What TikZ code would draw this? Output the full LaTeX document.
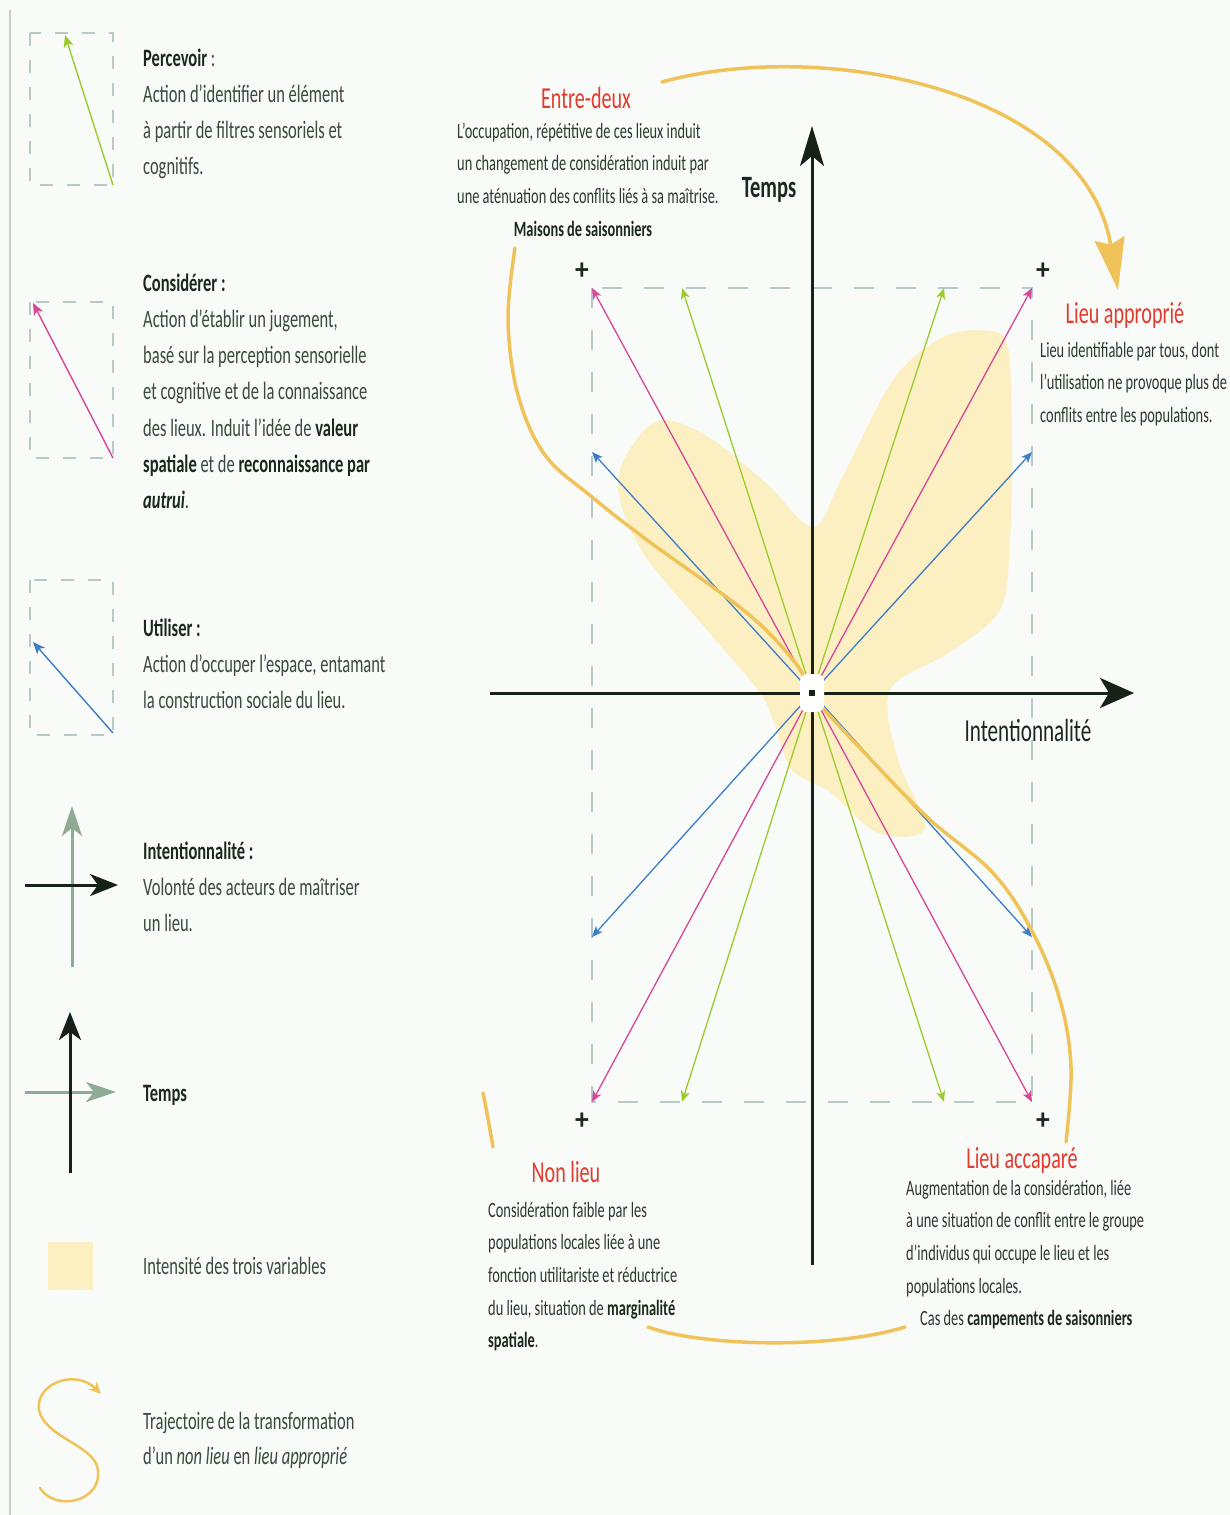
\documentclass[tikz,border=0pt]{standalone}
\usepackage{fontspec}
\usepackage{graphicx}
\setmainfont{Carlito}[FakeStretch=0.66]
\usetikzlibrary{arrows.meta}
\definecolor{bg}{HTML}{F8FBF8}
\definecolor{txt}{HTML}{3B4A3B}
\definecolor{ctxt}{HTML}{2C3A2C}
\definecolor{dark}{HTML}{1C281C}
\definecolor{redt}{HTML}{E23B2E}
\definecolor{grn}{HTML}{9BCB2E}
\definecolor{mgt}{HTML}{D8469A}
\definecolor{blu}{HTML}{3C7DCA}
\definecolor{dsh}{HTML}{B7C9C9}
\definecolor{traj}{HTML}{F0C35A}
\definecolor{blob}{HTML}{FCEFC2}
\definecolor{sage}{HTML}{8FAA95}
\definecolor{axc}{HTML}{162216}
\newcommand\bd[1]{{\bfseries\color{dark}#1}}
\begin{document}
\begin{tikzpicture}[x=1pt,y=-1pt,
  legtxt/.style={anchor=north west,align=left,inner sep=0,text=txt,font=\fontsize{25}{36.2}\selectfont},
  chtxt/.style={anchor=north west,align=left,inner sep=0,text=ctxt,font=\fontsize{21.8}{32.6}\selectfont},
  ttl/.style={anchor=base,inner sep=0,text=redt,font=\fontsize{30.5}{36}\selectfont},
  axlbl/.style={anchor=base,inner sep=0,text=dark,font=\fontsize{32}{36}\selectfont},
  plus/.style={inner sep=0,text=dark,font=\fontsize{26}{26}\selectfont\bfseries},
  chrect/.style={draw=dsh,line width=1.8pt,dash pattern=on 20pt off 22pt},
  legrect/.style={draw=dsh,line width=1.5pt,dash pattern=on 13pt off 14pt},
  carr/.style={line width=1.3pt,-{Stealth[length=11pt,width=9pt,inset=3pt]}},
  larr/.style={line width=1.4pt,-{Stealth[length=12pt,width=10pt,inset=3pt]}},
  bigax/.style={draw=axc,line width=3pt,-{Stealth[length=40pt,width=24pt,inset=10pt]}},
  bigaxh/.style={draw=axc,line width=3pt,-{Stealth[length=34pt,width=30pt,inset=9pt]}},
  legblack/.style={draw=axc,line width=3pt,-{Stealth[length=28pt,width=22pt,inset=8pt]}},
  leggray/.style={draw=sage,line width=3pt,-{Stealth[length=30pt,width=20pt,inset=8pt]}},
  trajl/.style={draw=traj,line width=3.5pt,line cap=round}
]
\fill[bg] (0,0) rectangle (1230,1515);
\useasboundingbox (0,0) rectangle (1230,1515);
\draw[draw=black!20,line width=2pt] (10,10) -- (10,1515);

% ---------- Legend ----------
\draw[legrect] (30,33) rectangle (113,185);
\coordinate (p1a) at (113,185); \coordinate (p1b) at (65,35);
\draw[larr,draw=grn] (p1a) -- (p1b);
\node[legtxt] (tPerc) at (143,40.8) {\strut\bd{Percevoir} :\\Action d’identifier un élément\\à partir de filtres sensoriels et\\cognitifs.};

\draw[legrect] (30,302) rectangle (113,458);
\coordinate (p2a) at (113,458); \coordinate (p2b) at (33,303);
\draw[larr,draw=mgt] (p2a) -- (p2b);
\node[legtxt] (tCons) at (143,265.8) {\strut\bd{Considérer :}\\Action d’établir un jugement,\\basé sur la perception sensorielle\\et cognitive et de la connaissance\\des lieux. Induit l’idée de \bd{valeur}\\\bd{spatiale} et de \bd{reconnaissance par}\\\bd{\itshape autrui}.};

\draw[legrect] (30,580) rectangle (113,735);
\coordinate (p3a) at (113,733); \coordinate (p3b) at (33,642);
\draw[larr,draw=blu] (p3a) -- (p3b);
\node[legtxt] (tUtil) at (143,610.8) {\strut\bd{Utiliser :}\\Action d’occuper l’espace, entamant\\la construction sociale du lieu.};

\coordinate (i1a) at (72,967); \coordinate (i1b) at (72,806);
\coordinate (i2a) at (25,885); \coordinate (i2b) at (118,885);
\draw[leggray] (i1a) -- (i1b);
\draw[legblack] (i2a) -- (i2b);
\node[legtxt] (tInt) at (143,833.8) {\strut\bd{Intentionnalité :}\\Volonté des acteurs de maîtriser\\un lieu.};

\coordinate (t2a) at (25,1092); \coordinate (t2b) at (116,1092);
\coordinate (t1a) at (70,1173); \coordinate (t1b) at (70,1012);
\draw[leggray] (t2a) -- (t2b);
\draw[legblack] (t1a) -- (t1b);
\node[legtxt] (tTemps) at (143,1075.8) {\strut\bd{Temps}};

\fill[blob] (48,1242) rectangle (93,1290);
\node[legtxt] (tIntens) at (143,1248.8) {\strut Intensité des trois variables};

\draw[trajl,line width=2.5pt,-{Stealth[length=12pt,width=11pt]}] (40,1488) .. controls (55,1512) and (102,1502) .. (98,1470) .. controls (95,1445) and (45,1438) .. (39,1410) .. controls (35,1384) and (75,1368) .. (101,1394);
\node[legtxt,font=\fontsize{25}{35}\selectfont] (tTraj) at (143,1404.5) {\strut Trajectoire de la transformation\\d’un \textit{non lieu} en \textit{lieu approprié}};

% ---------- Chart ----------
\fill[blob] plot[smooth cycle,tension=0.55] coordinates {
 (813,527) (842,478) (893,380) (943,337) (990,331) (1008,348) (1012,440)
 (1010,540) (1000,610) (950,652) (890,690) (898,760) (925,828) (878,833)
 (830,792) (792,770) (774,722) (758,690) (700,622) (640,548) (618,478)
 (655,422) (705,435) (765,482)};

\draw[chrect] (592,288) rectangle (1032,1102);

\node[inner sep=0] (O) at (812,693) {};
\coordinate (tlm) at (592,288); \coordinate (tlg) at (682,288); \coordinate (tlb) at (592,452);
\coordinate (trg) at (944,288); \coordinate (trm) at (1032,288); \coordinate (trb) at (1032,452);
\coordinate (blb) at (592,937); \coordinate (blm) at (592,1102); \coordinate (blg) at (682,1102);
\coordinate (brg) at (944,1102); \coordinate (brm) at (1032,1102); \coordinate (brb) at (1032,937);
\foreach \e/\c in {tlm/mgt,tlg/grn,tlb/blu,trg/grn,trm/mgt,trb/blu,blb/blu,blm/mgt,blg/grn,brg/grn,brm/mgt,brb/blu}
  \draw[carr,draw=\c] (O) -- (\e);

% axes
\coordinate (hl) at (490,693); \coordinate (hr) at (1134,693);
\coordinate (vb) at (812,1265); \coordinate (vt) at (812,126);
\draw[bigaxh] (hl) -- (hr);
\draw[bigax] (vb) -- (vt);

% trajectory
\draw[trajl] (483,1093) .. controls (487,1112) and (490,1130) .. (493,1147);
\draw[trajl] (648,1327) .. controls (700,1346) and (830,1350) .. (905,1327);
\draw[trajl] plot[smooth,tension=0.6] coordinates {
 (1066,1142) (1071,1067) (1060,1000) (1033,933) (993,873) (927,817) (860,748)
 (812,695) (797,665) (747,613) (647,540) (592,497) (545,455) (518,395) (508,320) (515,248)};
\draw[trajl,-{Stealth[length=52pt,width=30pt,inset=6pt]}] (662,82) .. controls (820,38) and (1085,88) .. (1118,290);

% centre
\node[fill=white,minimum width=24pt,minimum height=38pt,rounded corners=7pt,inner sep=0] (Cw) at (812,693) {};
\node[fill=axc,minimum size=6pt,inner sep=0] (Cb) at (812,693) {};

% plus signs
\node[plus] (pl1) at (582,271) {\scalebox{1.6}[1.15]{+}};
\node[plus] (pl2) at (1043,271) {\scalebox{1.6}[1.15]{+}};
\node[plus] (pl3) at (582,1121) {\scalebox{1.6}[1.15]{+}};
\node[plus] (pl4) at (1043,1121) {\scalebox{1.6}[1.15]{+}};

% axis labels
\node[axlbl,font=\fontsize{31}{36}\selectfont\bfseries] (lTemps) at (769,197) {Temps};
\node[axlbl] (lInt) at (1028,741) {Intentionnalité};

% Entre-deux
\node[ttl] (hEntre) at (586,108) {Entre-deux};
\node[chtxt] (pEntre) at (457,115.2) {\strut L’occupation, répétitive de ces lieux induit\\un changement de considération induit par\\une aténuation des conflits liés à sa maîtrise.};
\node[chtxt,anchor=base] (pMaisons) at (583,236) {\bd{Maisons de saisonniers}};

% Lieu approprie
\node[ttl] (hApp) at (1125,323) {Lieu approprié};
\node[chtxt] (pApp) at (1040,334.2) {\strut Lieu identifiable par tous, dont\\l’utilisation ne provoque plus de\\conflits entre les populations.};

% Non lieu
\node[ttl] (hNon) at (566,1182) {Non lieu};
\node[chtxt] (pNon) at (488,1194.2) {\strut Considération faible par les\\populations locales liée à une\\fonction utilitariste et réductrice\\du lieu, situation de \bd{marginalité}\\\bd{spatiale}.};

% Lieu accapare
\node[ttl] (hAcc) at (1022,1168) {Lieu accaparé};
\node[chtxt] (pAcc) at (906,1172.2) {\strut Augmentation de la considération, liée\\à une situation de conflit entre le groupe\\d’individus qui occupe le lieu et les\\populations locales.\\\hspace*{14pt}Cas des \bd{campements de saisonniers}};
\end{tikzpicture}
\end{document}
